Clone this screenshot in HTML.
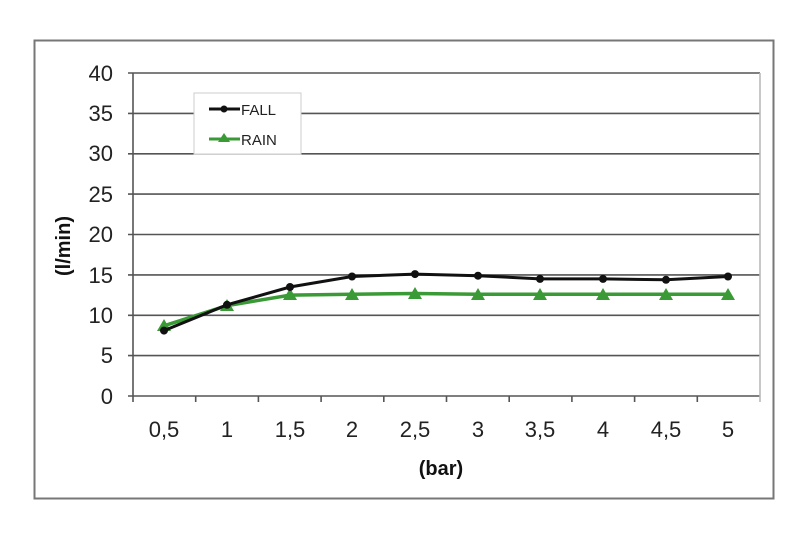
<!DOCTYPE html>
<html><head><meta charset="utf-8"><style>body{margin:0;background:#fff}</style></head>
<body>
<svg width="800" height="537" xmlns="http://www.w3.org/2000/svg" font-family="Liberation Sans, sans-serif">
<rect width="800" height="537" fill="#fff"/>
<rect x="34.5" y="40.5" width="739" height="458" fill="none" stroke="#777" stroke-width="2"/>
<g stroke="#555" stroke-width="1.6">
<line x1="128" y1="73" x2="760" y2="73"/>
<line x1="128" y1="113.4" x2="760" y2="113.4"/>
<line x1="128" y1="153.8" x2="760" y2="153.8"/>
<line x1="128" y1="194.1" x2="760" y2="194.1"/>
<line x1="128" y1="234.5" x2="760" y2="234.5"/>
<line x1="128" y1="274.9" x2="760" y2="274.9"/>
<line x1="128" y1="315.3" x2="760" y2="315.3"/>
<line x1="128" y1="355.6" x2="760" y2="355.6"/>
<line x1="128" y1="396" x2="760" y2="396"/>
<line x1="133" y1="73" x2="133" y2="402"/>
<line x1="760" y1="73" x2="760" y2="402" stroke="#bbb"/>
<line x1="195.7" y1="396" x2="195.7" y2="402"/><line x1="258.4" y1="396" x2="258.4" y2="402"/>
<line x1="321.1" y1="396" x2="321.1" y2="402"/><line x1="383.8" y1="396" x2="383.8" y2="402"/>
<line x1="446.5" y1="396" x2="446.5" y2="402"/><line x1="509.2" y1="396" x2="509.2" y2="402"/>
<line x1="571.9" y1="396" x2="571.9" y2="402"/><line x1="634.6" y1="396" x2="634.6" y2="402"/>
<line x1="697.3" y1="396" x2="697.3" y2="402"/>
</g>
<g font-size="22" fill="#222" text-anchor="end">
<text x="113" y="81">40</text><text x="113" y="121">35</text><text x="113" y="161">30</text>
<text x="113" y="202">25</text><text x="113" y="242">20</text><text x="113" y="283">15</text>
<text x="113" y="323">10</text><text x="113" y="363">5</text><text x="113" y="404">0</text>
</g>
<g font-size="22" fill="#222" text-anchor="middle">
<text x="164" y="437">0,5</text><text x="227" y="437">1</text><text x="290" y="437">1,5</text>
<text x="352" y="437">2</text><text x="415" y="437">2,5</text><text x="478" y="437">3</text>
<text x="540" y="437">3,5</text><text x="603" y="437">4</text><text x="666" y="437">4,5</text>
<text x="728" y="437">5</text>
</g>
<text x="441" y="475" font-size="20" font-weight="bold" text-anchor="middle" fill="#111">(bar)</text>
<text transform="translate(70,246) rotate(-90)" font-size="20" font-weight="bold" text-anchor="middle" fill="#111">(l/min)</text>
<polyline fill="none" stroke="#3a9a35" stroke-width="3.5" points="164,325.8 227,305.6 290,295.1 352,294.3 415,293.5 478,294.3 540,294.3 603,294.3 666,294.3 728,294.3"/>
<g fill="#3a9a35">
<polygon points="164,319 157,331 171,331"/><polygon points="227,299 220,311 234,311"/><polygon points="290,288 283,300 297,300"/><polygon points="352,288 345,300 359,300"/><polygon points="415,287 408,299 422,299"/><polygon points="478,288 471,300 485,300"/><polygon points="540,288 533,300 547,300"/><polygon points="603,288 596,300 610,300"/><polygon points="666,288 659,300 673,300"/><polygon points="728,288 721,300 735,300"/>
</g>
<polyline fill="none" stroke="#111" stroke-width="3" points="164,330.6 227,304.8 290,287 352,276.5 415,274.1 478,275.7 540,278.9 603,278.9 666,279.8 728,276.5"/>
<g fill="#111">
<circle cx="164" cy="330.6" r="4"/><circle cx="227" cy="304.8" r="4"/><circle cx="290" cy="287" r="4"/><circle cx="352" cy="276.5" r="4"/><circle cx="415" cy="274.1" r="4"/><circle cx="478" cy="275.7" r="4"/><circle cx="540" cy="278.9" r="4"/><circle cx="603" cy="278.9" r="4"/><circle cx="666" cy="279.8" r="4"/><circle cx="728" cy="276.5" r="4"/>
</g>
<rect x="194" y="93" width="107" height="61" fill="#fff" stroke="#ccc"/>
<line x1="209" y1="109" x2="240" y2="109" stroke="#111" stroke-width="3"/><circle cx="224" cy="109" r="3.5" fill="#111"/>
<line x1="209" y1="139" x2="240" y2="139" stroke="#3a9a35" stroke-width="3"/><polygon points="224,133 218,142 230,142" fill="#3a9a35"/>
<text x="241" y="115" font-size="15" fill="#222">FALL</text>
<text x="241" y="145" font-size="15" fill="#222">RAIN</text>
</svg>
</body></html>
